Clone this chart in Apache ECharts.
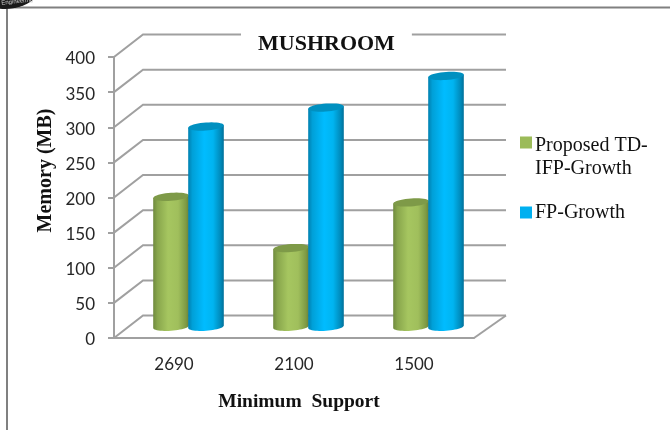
<!DOCTYPE html>
<html>
<head>
<meta charset="utf-8">
<style>html,body{margin:0;padding:0;background:#fff}#c{width:670px;height:430px}</style>
<script src="https://cdn.jsdelivr.net/npm/echarts@6/dist/echarts.min.js"></script>
</head>
<body>
<div id="c"></div>
<script>
const categories = ['2690', '2100', '1500'];
const proposedValues = [185, 112, 177];
const fpGrowthValues = [285, 312, 357];
const yTicks = [0, 50, 100, 150, 200, 250, 300, 350, 400];

const DEPTH_X = 29, DEPTH_Y = 22.5;
const WALL_COLOR = '#a0a0a0';

// Horizontal gradient that gives each bar its rounded look
function shade(stops) {
  return {
    type: 'linear', x: 0, y: 0, x2: 1, y2: 0,
    colorStops: stops.map(s => ({ offset: s[0], color: s[1] }))
  };
}
const greenBody = shade([[0, '#6f8a3e'], [0.12, '#88a64c'], [0.42, '#a6c660'], [0.7, '#a0bf5c'], [0.92, '#7e9a44'], [1, '#6a8238']]);
const blueBody = shade([[0, '#0080b0'], [0.12, '#00a0d8'], [0.45, '#00bcff'], [0.7, '#00b4f0'], [0.92, '#0088b8'], [1, '#006f98']]);

// Cylinder standing halfway into the floor depth
function cylinder(shiftX, body, cap) {
  return function (params, api) {
    const idx = api.value(0);
    const top = api.coord([idx, api.value(1)]);
    const base = api.coord([idx, 0]);
    const cx = top[0] + DEPTH_X / 2 + shiftX;
    const yTop = top[1] - DEPTH_Y / 2;
    const yBase = base[1] - DEPTH_Y / 2;
    const rx = 17.8, ry = 4, tilt = 0.07;
    const capPts = [], bodyPts = [[cx - rx, yTop + rx * tilt]];
    for (let i = 0; i <= 40; i++) {
      const a = Math.PI * 2 * i / 40;
      const dx = rx * Math.cos(a);
      capPts.push([cx + dx, yTop + ry * Math.sin(a) - dx * tilt]);
    }
    for (let i = 0; i <= 24; i++) {
      const a = Math.PI * i / 24;
      const dx = -rx * Math.cos(a);
      bodyPts.push([cx + dx, yBase + ry * Math.sin(a) - dx * tilt]);
    }
    bodyPts.push([cx + rx, yTop - rx * tilt]);
    return {
      type: 'group',
      children: [
        { type: 'polygon', shape: { points: bodyPts }, style: { fill: body } },
        { type: 'polygon', shape: { points: capPts }, style: { fill: cap } }
      ]
    };
  };
}

// Slanted side wall and back wall line for one value tick
function wallLine(params, api) {
  const v = api.value(0);
  const left = api.coord([0, v]);
  const size = api.size([1, 0]);
  const x0 = left[0] - size[0] / 2;
  const x1 = x0 + size[0] * categories.length;
  const y = left[1];
  const children = [{
    type: 'polyline',
    shape: { points: [[x0, y], [x0 + DEPTH_X, y - DEPTH_Y], [x1 + DEPTH_X + 3, y - DEPTH_Y]] },
    style: { stroke: WALL_COLOR, lineWidth: 2, fill: 'none' }
  }];
  if (v === 0) {
    children.push({
      type: 'line',
      shape: { x1: x1, y1: y, x2: x1 + DEPTH_X + 3, y2: y - DEPTH_Y },
      style: { stroke: WALL_COLOR, lineWidth: 2 }
    });
  }
  return { type: 'group', children: children };
}

const legendText = {
  fontFamily: 'Liberation Serif', fontSize: 20, color: '#111', lineHeight: 23,
  padding: [0, 0, 0, -2]
};

const chart = echarts.init(document.getElementById('c'), null, { renderer: 'canvas' });
chart.setOption({
  animation: false,
  backgroundColor: '#ffffff',
  title: {
    text: 'MUSHROOM',
    left: 241, top: 28,
    padding: [5, 17, 3, 17],
    backgroundColor: '#ffffff',
    textStyle: { fontFamily: 'Liberation Serif', fontWeight: 'bold', fontSize: 22, color: '#111' }
  },
  legend: [
    {
      data: ['Proposed TD-IFP-Growth'],
      left: 520, top: 134, padding: 0, orient: 'vertical',
      itemWidth: 12, itemHeight: 46,
      icon: 'path://M0 5H12V17H0Z M0 46L0.01 46L0 46Z',
      formatter: () => 'Proposed TD-\nIFP-Growth',
      textStyle: legendText
    },
    {
      data: ['FP-Growth'],
      left: 520, top: 201, padding: 0,
      itemWidth: 12, itemHeight: 12, icon: 'rect',
      textStyle: legendText
    }
  ],
  grid: { left: 114, right: 196, top: 57, bottom: 92 },
  xAxis: {
    type: 'category',
    data: categories,
    name: 'Minimum  Support',
    nameLocation: 'middle',
    nameGap: 54,
    nameTextStyle: {
      fontFamily: 'Liberation Serif', fontWeight: 'bold', fontSize: 19.5, color: '#111',
      padding: [0, 0, 0, 10]
    },
    axisLine: { lineStyle: { color: WALL_COLOR, width: 2 } },
    axisTick: { length: 6, alignWithLabel: false, lineStyle: { color: WALL_COLOR, width: 2 } },
    axisLabel: { fontFamily: 'Lato', fontSize: 17, color: '#262626', margin: 18 }
  },
  yAxis: {
    type: 'value',
    min: 0, max: 400, interval: 50,
    name: 'Memory (MB)',
    nameLocation: 'middle',
    nameGap: 58,
    nameMoveOverlap: false,
    nameTextStyle: {
      fontFamily: 'Liberation Serif', fontWeight: 'bold', fontSize: 20, color: '#111',
      padding: [0, 0, 0, 54]
    },
    axisLine: { show: true, lineStyle: { color: WALL_COLOR, width: 2 } },
    axisTick: { show: true, length: 6, lineStyle: { color: WALL_COLOR, width: 2 } },
    axisLabel: { fontFamily: 'Lato', fontSize: 17, color: '#262626', margin: 19, verticalAlign: 'top', lineHeight: 4 },
    splitLine: { show: false }
  },
  series: [
    {
      name: 'walls', type: 'custom', silent: true, z: 1, clip: false,
      data: yTicks.map(v => [v]),
      encode: { y: 0 },
      renderItem: wallLine
    },
    {
      name: 'Proposed TD-IFP-Growth', type: 'custom', z: 3, clip: false,
      itemStyle: { color: '#9bbb59' },
      data: proposedValues.map((v, i) => [i, v]),
      encode: { x: 0, y: 1 },
      renderItem: cylinder(-17.5, greenBody, '#7e9a48')
    },
    {
      name: 'FP-Growth', type: 'custom', z: 4, clip: false,
      itemStyle: { color: '#00b0f0' },
      data: fpGrowthValues.map((v, i) => [i, v]),
      encode: { x: 0, y: 1 },
      renderItem: cylinder(17.5, blueBody, '#0090c0')
    }
  ],
  graphic: [
    // Page frame and the corner of the publisher's emblem above it
    { type: 'line', silent: true, z: 0, shape: { x1: 7, y1: 7.5, x2: 670, y2: 7.5 }, style: { stroke: '#808080', lineWidth: 2 } },
    { type: 'line', silent: true, z: 0, shape: { x1: 7, y1: 7, x2: 7, y2: 430 }, style: { stroke: '#808080', lineWidth: 2 } },
    { type: 'ellipse', silent: true, z: 0, shape: { cx: 5, cy: -16, rx: 36, ry: 25 }, style: { fill: '#1a1a1a' } },
    { type: 'text', silent: true, z: 1, x: 1, y: 0, rotation: 0.1, style: { text: 'Engineering', fontSize: 6, fontFamily: 'Liberation Sans', fill: '#cfcfcf' } }
  ]
});
</script>
</body>
</html>
